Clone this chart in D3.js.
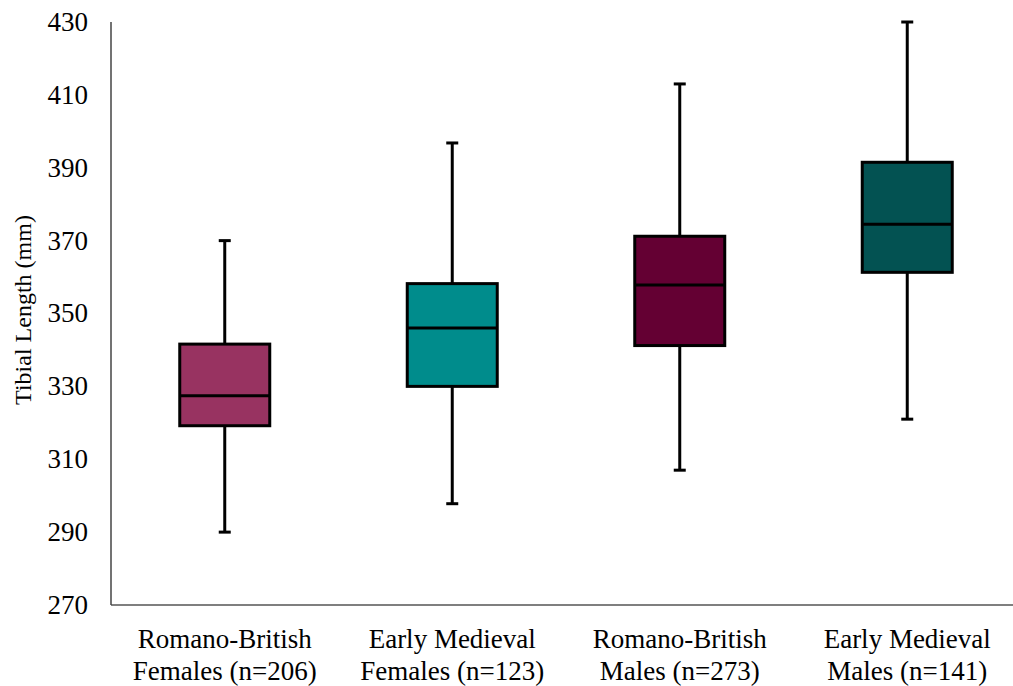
<!DOCTYPE html>
<html><head><meta charset="utf-8">
<script src="https://cdn.jsdelivr.net/npm/d3@7"></script>
<style>body{margin:0;background:#fff}svg{display:block}svg text{font-family:"Liberation Serif","Times New Roman","DejaVu Serif",serif;}</style>
</head><body><svg id="c" width="1013" height="686"></svg>
<script>
const categories = [["Romano-British","Females (n=206)"],["Early Medieval","Females (n=123)"],["Romano-British","Males (n=273)"],["Early Medieval","Males (n=141)"]];
const mins    = [290, 297.8, 307, 321];
const q1s     = [319.2, 330, 341.2, 361.3];
const medians = [327.4, 346, 357.8, 374.5];
const q3s     = [341.6, 358.2, 371.2, 391.5];
const maxs    = [370, 396.8, 413, 430];
const colors  = ["#983361", "#008c8c", "#640033", "#035252"];
const yTicks  = [270, 290, 310, 330, 350, 370, 390, 410, 430];

(function () {
const svg = d3.select("#c");
const mLeft = 111, mRight = 1021, mTop = 22, mBottom = 605;
const x = d3.scaleBand().domain(d3.range(4)).range([mLeft, mRight]).paddingInner(0.6).paddingOuter(0.3);
const y = d3.scaleLinear().domain([270, 430]).range([mBottom, mTop]);
const bw = 90;
const cx = i => x(i) + x.bandwidth() / 2;

svg.append("line").attr("x1", mLeft).attr("x2", 1013).attr("y1", mBottom).attr("y2", mBottom)
  .attr("stroke", "#7f7f7f").attr("stroke-width", 2);
svg.append("line").attr("x1", mLeft).attr("x2", mLeft).attr("y1", mTop).attr("y2", mBottom)
  .attr("stroke", "#444").attr("stroke-width", 1.5);

svg.selectAll(".yt").data(yTicks).join("text")
  .attr("x", 88).attr("y", d => y(d)).attr("dy", "0.33em").attr("text-anchor", "end")
  .style("font-size", "27px").attr("fill", "#000").text(d => d);

const cat = svg.selectAll(".cat").data(categories).join("text")
  .attr("x", (d, i) => cx(i)).attr("y", 648).attr("text-anchor", "middle")
  .style("font-size", "27px").attr("fill", "#000");
cat.append("tspan").attr("x", (d, i) => cx(i)).attr("dy", 0).text(d => d[0]);
cat.append("tspan").attr("x", (d, i) => cx(i)).attr("dy", 32).text(d => d[1]);

svg.append("text").attr("transform", "translate(31,310) rotate(-90)")
  .attr("text-anchor", "middle").style("font-size", "24px").attr("fill", "#000")
  .text("Tibial Length (mm)");

const g = svg.selectAll(".box").data(d3.range(4)).join("g");
g.append("line").attr("x1", cx).attr("x2", cx).attr("y1", i => y(maxs[i])).attr("y2", i => y(q3s[i]))
  .attr("stroke", "#000").attr("stroke-width", 3);
g.append("line").attr("x1", cx).attr("x2", cx).attr("y1", i => y(q1s[i])).attr("y2", i => y(mins[i]))
  .attr("stroke", "#000").attr("stroke-width", 3);
g.append("line").attr("x1", i => cx(i) - 6).attr("x2", i => cx(i) + 6).attr("y1", i => y(maxs[i])).attr("y2", i => y(maxs[i]))
  .attr("stroke", "#000").attr("stroke-width", 3);
g.append("line").attr("x1", i => cx(i) - 6).attr("x2", i => cx(i) + 6).attr("y1", i => y(mins[i])).attr("y2", i => y(mins[i]))
  .attr("stroke", "#000").attr("stroke-width", 3);
g.append("rect").attr("x", i => cx(i) - bw / 2).attr("width", bw)
  .attr("y", i => y(q3s[i])).attr("height", i => y(q1s[i]) - y(q3s[i]))
  .attr("fill", i => colors[i]).attr("stroke", "#000").attr("stroke-width", 3);
g.append("line").attr("x1", i => cx(i) - bw / 2).attr("x2", i => cx(i) + bw / 2)
  .attr("y1", i => y(medians[i])).attr("y2", i => y(medians[i]))
  .attr("stroke", "#000").attr("stroke-width", 3);
})();
</script></body></html>
